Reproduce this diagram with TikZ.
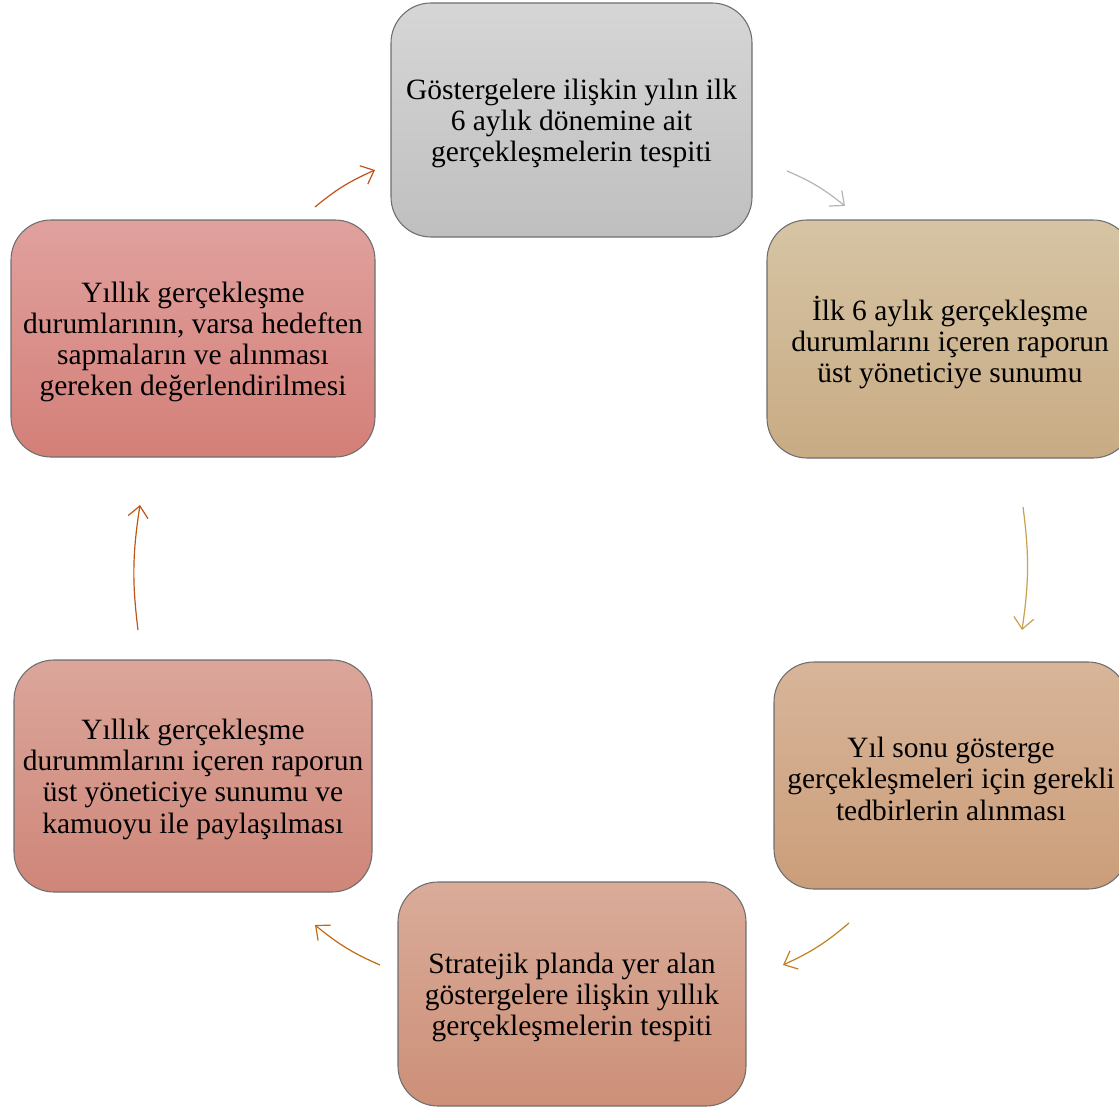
\documentclass[tikz,border=0pt]{standalone}
\usepackage{fontspec}
\setmainfont{Liberation Serif}
\usetikzlibrary{arrows.meta,bending}
\definecolor{bd}{HTML}{6E6E6E}
\definecolor{aA}{HTML}{C2501C}
\definecolor{aB}{HTML}{B4B4B4}
\definecolor{aC}{HTML}{C8A04E}
\definecolor{aD}{HTML}{C0801E}
\definecolor{aE}{HTML}{C06A14}
\definecolor{aF}{HTML}{C05414}
\tikzset{
  cbox/.style={draw=bd, line width=0.8pt, rounded corners=30pt, inner sep=0pt, outer sep=0pt},
  ctxt/.style={align=center, inner sep=0pt, font=\fontsize{22.1}{23.4}\selectfont, text=black},
  cyc/.style={line width=0.9pt, -{Straight Barb[length=8.5pt,width=15pt,line width=0.9pt]}, bend left=8}
}
\begin{document}
\begin{tikzpicture}[x=0.75pt,y=-0.75pt]
\useasboundingbox (0,0) rectangle (1119,1109);
\clip (0,0) rectangle (1119,1109);
\node[cbox, minimum width=270.75pt, minimum height=175.5pt, top color={rgb,255:red,214;green,214;blue,214}, bottom color={rgb,255:red,191;green,191;blue,191}] (b1) at (571.5,120) {};
\node[cbox, minimum width=274.5pt, minimum height=178.5pt, top color={rgb,255:red,214;green,196;blue,164}, bottom color={rgb,255:red,200;green,171;blue,132}] (b2) at (950,339) {};
\node[cbox, minimum width=265.5pt, minimum height=170.25pt, top color={rgb,255:red,216;green,181;blue,153}, bottom color={rgb,255:red,203;green,158;blue,122}] (b3) at (951,775.5) {};
\node[cbox, minimum width=261pt, minimum height=168pt, top color={rgb,255:red,217;green,172;blue,153}, bottom color={rgb,255:red,205;green,143;blue,120}] (b4) at (572,994) {};
\node[cbox, minimum width=268.5pt, minimum height=174pt, top color={rgb,255:red,219;green,166;blue,154}, bottom color={rgb,255:red,207;green,134;blue,121}] (b5) at (193,776) {};
\node[cbox, minimum width=273pt, minimum height=177.75pt, top color={rgb,255:red,224;green,161;blue,158}, bottom color={rgb,255:red,212;green,127;blue,120}] (b6) at (193,338.5) {};
\node[ctxt] (t1) at ([yshift=-2.5pt]b1.center) {Göstergelere ilişkin yılın ilk\\6 aylık dönemine ait\\gerçekleşmelerin tespiti};
\node[ctxt] (t2) at ([yshift=-2.5pt]b2.center) {İlk 6 aylık gerçekleşme\\durumlarını içeren raporun\\üst yöneticiye sunumu};
\node[ctxt] (t3) at ([yshift=-2.5pt]b3.center) {Yıl sonu gösterge\\gerçekleşmeleri için gerekli\\tedbirlerin alınması};
\node[ctxt] (t4) at ([yshift=-2.5pt]b4.center) {Stratejik planda yer alan\\göstergelere ilişkin yıllık\\gerçekleşmelerin tespiti};
\node[ctxt] (t5) at ([yshift=-2.5pt]b5.center) {Yıllık gerçekleşme\\durummlarını içeren raporun\\üst yöneticiye sunumu ve\\kamuoyu ile paylaşılması};
\node[ctxt] (t6) at ([yshift=-2.5pt]b6.center) {Yıllık gerçekleşme\\durumlarının, varsa hedeften\\sapmaların ve alınması\\gereken değerlendirilmesi};
\coordinate (s1) at (315,207); \coordinate (e1) at (375,170);
\coordinate (s2) at (787,171); \coordinate (e2) at (845,206);
\coordinate (s3) at (1023,507); \coordinate (e3) at (1022,630);
\coordinate (s4) at (849,923); \coordinate (e4) at (783,965);
\coordinate (s5) at (380,965); \coordinate (e5) at (315,925);
\coordinate (s6) at (138,630); \coordinate (e6) at (140,505);
\draw[cyc, aA] (s1) to (e1);
\draw[cyc, aB] (s2) to (e2);
\draw[cyc, aC] (s3) to (e3);
\draw[cyc, aD] (s4) to (e4);
\draw[cyc, aE] (s5) to (e5);
\draw[cyc, aF] (s6) to (e6);
\end{tikzpicture}
\end{document}
